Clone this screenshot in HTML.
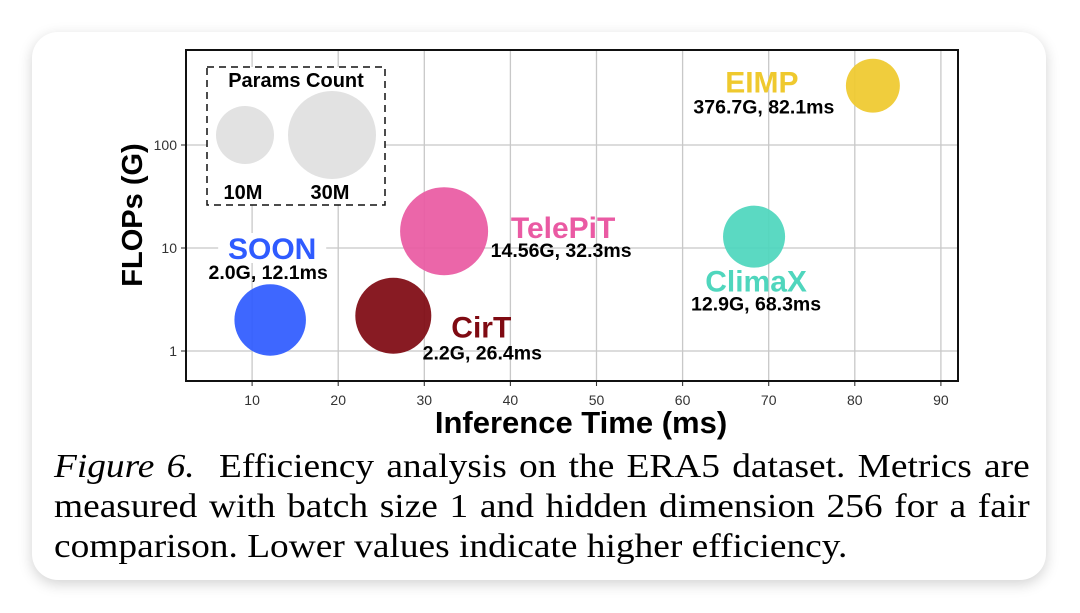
<!DOCTYPE html>
<html><head><meta charset="utf-8"><style>
body{margin:0;width:1080px;height:613px;background:#fff;overflow:hidden;position:relative;font-family:"Liberation Sans",sans-serif}
#card{position:absolute;left:32px;top:32px;width:1014px;height:548px;background:#fff;border-radius:26px;box-shadow:0 4px 14px rgba(0,0,0,0.18)}
#cap{position:absolute;left:54px;top:447px;width:887px;font-family:"Liberation Serif",serif;font-size:34px;line-height:40px;color:#000;transform:scaleX(1.1);transform-origin:0 0}
#cap div{white-space:nowrap}
#cap .j{text-align:justify;text-align-last:justify;white-space:normal}
svg{position:absolute;left:0;top:0}
</style></head><body>
<div id="card"></div>
<svg id="chart" width="1080" height="613"></svg>
<div id="cap"><div class="j"><i>Figure 6.</i>&nbsp; Efficiency analysis on the ERA5 dataset. Metrics are</div><div class="j">measured with batch size 1 and hidden dimension 256 for a fair</div><div>comparison. Lower values indicate higher efficiency.</div></div>
<script>
const models=["SOON","CirT","TelePiT","ClimaX","EIMP"];
const timeMs=[12.1,26.4,32.3,68.3,82.1];
const flopsG=[2.0,2.2,14.56,12.9,376.7];
const paramsM=[19,22,30,12.7,7.3];
const colors=["#2f5bff","#7f0a12","#ea5aa3","#4fd6bd","#efc92e"];
const xTicks=[10,20,30,40,50,60,70,80,90];
const yTicks=[1,10,100];
const legendParams=[10,30];

const NS="http://www.w3.org/2000/svg";
const svg=document.getElementById('chart');
const L=186,R=958,T=50,B=381;
const xs=v=>166+v*8.61;
const ys=v=>351-Math.log10(v)*103;
const rs=p=>21.5+0.75*p;
function el(tag,attrs,parent){const e=document.createElementNS(NS,tag);for(const k in attrs)e.setAttribute(k,attrs[k]);(parent||svg).appendChild(e);return e;}
function txt(x,y,s,size,fill,weight,name,anchor){const t=el('text',{x:x,y:y,'font-size':size,fill:fill,'font-weight':weight||'normal','text-anchor':anchor||'middle','font-family':'"Liberation Sans",sans-serif'});t.textContent=s;


return t;}
xTicks.forEach(v=>{const l=el('line',{x1:xs(v),x2:xs(v),y1:T,y2:B+5,stroke:'#c8c8c8','stroke-width':1.3});


el('line',{x1:xs(v),x2:xs(v),y1:B,y2:B+5,stroke:'#333','stroke-width':1});
txt(xs(v),B+24,String(v),14,'#333','normal','x-tick-label');});
yTicks.forEach(v=>{const l=el('line',{x1:L-5,x2:R,y1:ys(v),y2:ys(v),stroke:'#c8c8c8','stroke-width':1.3});


el('line',{x1:L-5,x2:L,y1:ys(v),y2:ys(v),stroke:'#333','stroke-width':1});
txt(L-9,ys(v)+5,String(v),14,'#333','normal','y-tick-label','end');});
const lg=el('rect',{x:207,y:67,width:178,height:138,fill:'#fff',stroke:'#111','stroke-width':1.5,'stroke-dasharray':'7,5'});


txt(296,87,'Params Count',20,'#000','bold','legend-title');
const lx=[245,332];
legendParams.forEach((p,i)=>{const c=el('circle',{cx:lx[i],cy:135,r:rs(p),fill:'#e2e2e2'});


txt(lx[i]-2,199,p+'M',20,'#000','bold','legend-label');});
models.forEach((m,i)=>{const c=el('circle',{cx:xs(timeMs[i]),cy:ys(flopsG[i]),r:rs(paramsM[i]),fill:colors[i],opacity:0.93});

});
const off={SOON:[2,-72,-2,-48],CirT:[88,11,89,37],TelePiT:[119,-4,117,19],ClimaX:[2,44,2,67],EIMP:[-111,-4,-109,21]};
const vals={SOON:'2.0G, 12.1ms',CirT:'2.2G, 26.4ms',TelePiT:'14.56G, 32.3ms',ClimaX:'12.9G, 68.3ms',EIMP:'376.7G, 82.1ms'};
models.forEach((m,i)=>{const cx=xs(timeMs[i]),cy=ys(flopsG[i]),o=off[m];
if(m==='SOON'){el('rect',{x:cx+o[0]-54,y:cy+o[1]-15,width:108,height:30,fill:'#fff'});}
txt(cx+o[0],cy+o[1]+11,m,30,colors[i],'bold','label-'+m.toLowerCase());
txt(cx+o[2],cy+o[3]+7,vals[m],19.5,'#000','bold','value-label-'+m.toLowerCase());});
const f=el('rect',{x:L,y:T,width:R-L,height:B-T,fill:'none',stroke:'#111','stroke-width':2});


txt(581,433,'Inference Time (ms)',31,'#000','bold','x-axis-title');
const yt=txt(0,0,'FLOPs (G)',29,'#000','bold','y-axis-title');
yt.setAttribute('transform','translate(142,215) rotate(-90)');
</script>
</body></html>
